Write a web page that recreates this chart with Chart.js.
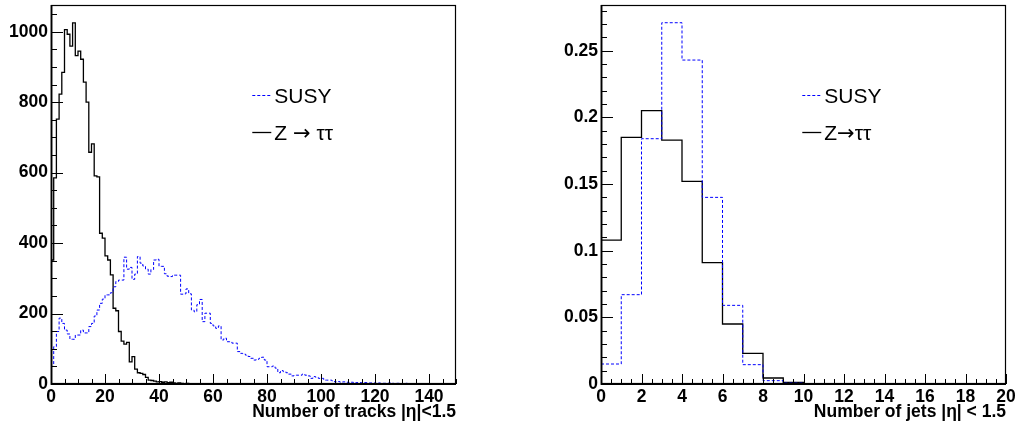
<!DOCTYPE html>
<html>
<head>
<meta charset="utf-8">
<script src="https://cdn.jsdelivr.net/npm/chart.js@4"></script>
<style>
  html, body { margin: 0; padding: 0; background: #fff; }
  #wrap { position: relative; width: 1018px; height: 428px; }
  canvas { position: absolute; top: 0; }
  #tracks { left: 0; }
  #jets { left: 509px; }
</style>
</head>
<body>
<div id="wrap">
  <canvas id="tracks" width="509" height="428"></canvas>
  <canvas id="jets" width="509" height="428"></canvas>
</div>
<script>
'use strict';

/* ---- track multiplicity, |eta| < 1.5 (150 bins of width 1) ---- */
const TRACK_BIN_WIDTH = 1;
const susyTracks = [
  50, 106, 149, 187, 172, 153, 142, 127, 127, 139,
  139, 153, 145, 145, 163, 172, 193, 210, 229, 241,
  253, 253, 259, 276, 291, 295, 295, 360, 326, 331,
  297, 312, 362, 343, 335, 326, 312, 325, 352, 354,
  334, 334, 313, 306, 305, 309, 309, 309, 255, 256,
  270, 256, 210, 205, 225, 240, 177, 201, 201, 172,
  165, 158, 165, 125, 130, 120, 120, 116, 116, 92,
  87, 85, 82, 78, 73, 68, 70, 73, 76, 68,
  49, 49, 51, 45, 32, 38, 35, 32, 28, 23,
  25, 25, 25, 28, 25, 23, 16, 21, 19, 16,
  16, 11, 11, 11, 9, 6, 7, 5, 6, 5,
  4, 5, 3, 4, 4, 3, 4, 3, 3, 3,
  2, 3, 2, 2, 2, 3, 2, 1, 2, 1,
  1, 2, 1, 1, 1, 1, 0, 1, 1, 0,
  1, 0, 1, 0, 0, 1, 0, 0, 0, 0,
];
const zTracks = [
  352, 585, 752, 823, 885, 1006, 993, 959, 1025, 932,
  945, 922, 857, 800, 658, 682, 591, 588, 428, 414,
  364, 352, 310, 215, 208, 149, 122, 113, 118, 63,
  78, 42, 32, 30, 27, 19, 11, 10, 8, 6,
  7, 5, 6, 4, 5, 3, 2, 3, 2, 1,
  2, 1, 1, 0, 1, 0, 0, 0, 0, 0,
  0, 0, 0, 0, 0, 0, 0, 0, 0, 0,
  0, 0, 0, 0, 0, 0, 0, 0, 0, 0,
  0, 0, 0, 0, 0, 0, 0, 0, 0, 0,
  0, 0, 0, 0, 0, 0, 0, 0, 0, 0,
  0, 0, 0, 0, 0, 0, 0, 0, 0, 0,
  0, 0, 0, 0, 0, 0, 0, 0, 0, 0,
  0, 0, 0, 0, 0, 0, 0, 0, 0, 0,
  0, 0, 0, 0, 0, 0, 0, 0, 0, 0,
  0, 0, 0, 0, 0, 0, 0, 0, 0, 0,
];
const trackXTicks = [0, 20, 40, 60, 80, 100, 120, 140];
const trackYTicks = [0, 200, 400, 600, 800, 1000];

/* ---- jet multiplicity, |eta| < 1.5 (20 bins of width 1) ---- */
const JET_BIN_WIDTH = 1;
const susyJets = [
  0.015, 0.067, 0.184, 0.271, 0.243, 0.140, 0.059, 0.0145, 0.0025, 0.0007,
  0.0002, 0, 0, 0, 0, 0, 0, 0, 0, 0,
];
const zJets = [
  0.108, 0.185, 0.205, 0.183, 0.152, 0.091, 0.045, 0.023, 0.0045, 0.0012,
  0.0003, 0.0001, 0, 0, 0, 0, 0, 0, 0, 0,
];
const jetXTicks = [0, 2, 4, 6, 8, 10, 12, 14, 16, 18, 20];
const jetYTicks = [0, 0.05, 0.1, 0.15, 0.2, 0.25];

const FONT = "'Liberation Sans', Arial, Helvetica, sans-serif";
const ARROW_FONT = "'DejaVu Sans', sans-serif";
Chart.defaults.font.family = FONT;
Chart.defaults.color = '#000';

// histogram -> step outline: one point per lower bin edge, plus the upper edge of the last bin
function toSteps(values, width) {
  const pts = values.map((v, i) => ({ x: i * width, y: v }));
  pts.push({ x: values.length * width, y: values[values.length - 1] });
  return pts;
}

/* ROOT-like frame: box around the pad, ticks pointing inward on x and y */
const rootFrame = {
  id: 'rootFrame',
  afterDraw(chart, args, opts) {
    const { ctx, chartArea: a, scales: { x, y } } = chart;
    const marks = (scale, step, perMajor) => {
      const n = Math.floor((scale.max - scale.min) / step + 1e-6);
      const out = [];
      for (let i = 0; i <= n; i++) out.push({ v: scale.min + i * step, major: i % perMajor === 0 });
      return out;
    };
    ctx.save();
    ctx.strokeStyle = '#000';
    ctx.lineWidth = 1;
    ctx.beginPath();
    marks(x, opts.xMinor, opts.xPerMajor).forEach(t => {
      const px = Math.round(x.getPixelForValue(t.v)) + 0.5;
      ctx.moveTo(px, a.bottom);
      ctx.lineTo(px, a.bottom - (t.major ? 10 : 5));
    });
    marks(y, opts.yMinor, opts.yPerMajor).forEach(t => {
      const py = Math.round(y.getPixelForValue(t.v)) + 0.5;
      ctx.moveTo(a.left, py);
      ctx.lineTo(a.left + (t.major ? 12 : 6), py);
    });
    ctx.stroke();
    ctx.lineWidth = 1.2;
    ctx.strokeRect(a.left + 0.5, a.top + 0.5, a.right - a.left - 1, a.bottom - a.top - 1);
    // left and bottom axes a little heavier
    ctx.lineWidth = 1.8;
    ctx.beginPath();
    ctx.moveTo(a.left + 0.5, a.top);
    ctx.lineTo(a.left + 0.5, a.bottom);
    ctx.lineTo(a.right, a.bottom);
    ctx.stroke();
    ctx.restore();
  },
};

// draw a label, switching to a font with a wider arrow glyph for "→"
function drawLabel(ctx, text, x, y, size) {
  let cx = x;
  for (const part of text.split(/(\u2192)/)) {
    if (!part) continue;
    ctx.font = part === '\u2192' ? `${size}px ${ARROW_FONT}` : `${size}px ${FONT}`;
    ctx.fillText(part, cx, y);
    cx += ctx.measureText(part).width;
  }
}

/* small legend inside the pad: line sample + label per dataset */
const padLegend = {
  id: 'padLegend',
  afterDraw(chart, args, opts) {
    const { ctx, chartArea: a } = chart;
    const x0 = a.left + opts.x * (a.right - a.left);
    ctx.save();
    ctx.textBaseline = 'alphabetic';
    ctx.textAlign = 'left';
    chart.data.datasets.forEach((ds, i) => {
      const yy = Math.round(a.top + (opts.y + i * opts.rowStep) * (a.bottom - a.top)) + 0.5;
      ctx.strokeStyle = ds.borderColor;
      ctx.lineWidth = ds.borderWidth;
      ctx.setLineDash(ds.borderDash || []);
      ctx.beginPath();
      ctx.moveTo(x0, yy);
      ctx.lineTo(x0 + opts.lineLength, yy);
      ctx.stroke();
      ctx.setLineDash([]);
      ctx.fillStyle = '#000';
      drawLabel(ctx, ds.label, x0 + opts.lineLength + 3, yy + 7, opts.size);
    });
    ctx.restore();
  },
};

function histChart(canvasId, cfg) {
  const ctx = document.getElementById(canvasId).getContext('2d');
  const tickFont = { family: FONT, size: 17.5, weight: 'bold' };
  const noPad = s => { s.paddingTop = 0; s.paddingBottom = 0; s.paddingLeft = 0; s.paddingRight = 0; };
  return new Chart(ctx, {
    type: 'line',
    data: {
      datasets: [
        {
          label: cfg.labels[0],
          data: toSteps(cfg.susy, cfg.binWidth),
          borderColor: '#0000ff',
          borderWidth: 1,
          borderDash: [3, 2],
          stepped: true,
          pointRadius: 0,
          fill: false,
        },
        {
          label: cfg.labels[1],
          data: toSteps(cfg.z, cfg.binWidth),
          borderColor: '#000000',
          borderWidth: 1.3,
          stepped: true,
          pointRadius: 0,
          fill: false,
        },
      ],
    },
    options: {
      responsive: false,
      animation: false,
      events: [],
      layout: { padding: { left: 0, top: 5, right: cfg.padRight, bottom: 0 } },
      scales: {
        x: {
          type: 'linear',
          min: 0,
          max: cfg.xMax,
          grid: { display: false, drawTicks: false },
          border: { display: false },
          afterBuildTicks: s => { s.ticks = cfg.xTicks.map(v => ({ value: v })); },
          afterFit: s => { s.height = 44; noPad(s); },
          ticks: { font: tickFont, color: '#000', padding: 3, maxRotation: 0, autoSkip: false,
                   callback: v => String(v) },
          title: { display: true, text: cfg.xTitle, align: 'end', color: '#000',
                   font: tickFont, padding: { top: 0, bottom: 5 } },
        },
        y: {
          type: 'linear',
          min: 0,
          max: cfg.yMax,
          grid: { display: false, drawTicks: false },
          border: { display: false },
          afterBuildTicks: s => { s.ticks = cfg.yTicks.map(v => ({ value: v })); },
          afterFit: s => { s.width = cfg.yWidth; noPad(s); },
          ticks: { font: tickFont, color: '#000', padding: 3, autoSkip: false,
                   callback: v => String(v) },
        },
      },
      plugins: {
        legend: { display: false },
        tooltip: { enabled: false },
        rootFrame: cfg.frame,
        padLegend: { x: 0.497, y: 0.237, rowStep: 0.097, lineLength: 19, size: 21 },
      },
    },
    plugins: [rootFrame, padLegend],
  });
}

histChart('tracks', {
  susy: susyTracks,
  z: zTracks,
  binWidth: TRACK_BIN_WIDTH,
  labels: ['SUSY', 'Z \u2192 \u03c4\u03c4'],
  xMax: 150,
  yMax: 1076,
  xTicks: trackXTicks,
  yTicks: trackYTicks,
  xTitle: 'Number of tracks |\u03b7|<1.5',
  yWidth: 51,
  padRight: 53,
  frame: { xMinor: 5, xPerMajor: 4, yMinor: 50, yPerMajor: 4 },
});

histChart('jets', {
  susy: susyJets,
  z: zJets,
  binWidth: JET_BIN_WIDTH,
  labels: ['SUSY', 'Z\u2192\u03c4\u03c4'],
  xMax: 20,
  yMax: 0.2843,
  xTicks: jetXTicks,
  yTicks: jetYTicks,
  xTitle: 'Number of jets |\u03b7| < 1.5',
  yWidth: 92,
  padRight: 12,
  frame: { xMinor: 0.5, xPerMajor: 4, yMinor: 0.01, yPerMajor: 5 },
});
</script>
</body>
</html>
